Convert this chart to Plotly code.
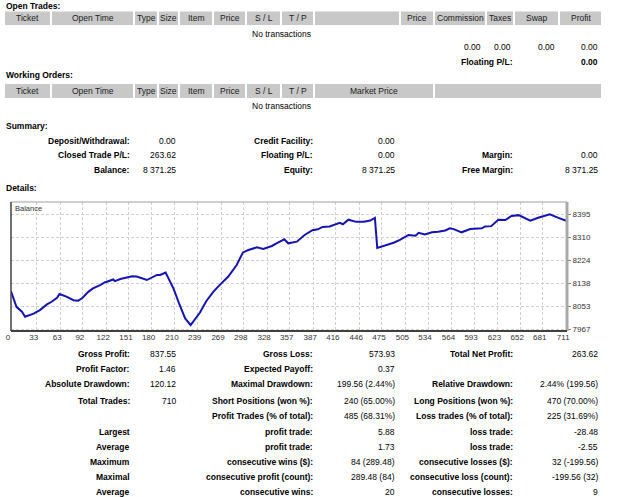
import plotly.graph_objects as go

W, H = 625, 497

# ---------------- data ----------------
trade_index = [0, 7, 14, 18, 29, 37, 46, 52, 59, 62, 71, 80, 86, 91, 99, 105, 114, 120, 131, 133,
               140, 155, 161, 174, 187, 191, 198, 208, 216, 223, 230, 242, 250, 259, 268, 278, 289,
               297, 304, 315, 323, 334, 340, 350, 355, 366, 376, 386, 393, 399, 408, 416, 421, 425,
               432, 442, 452, 460, 466, 469, 481, 490, 498, 509, 518, 522, 530, 539, 547, 556, 562,
               567, 577, 588, 603, 607, 615, 624, 633, 641, 650, 665, 675, 690, 701, 711]
balance = [8108, 8050, 8032, 8013, 8025, 8038, 8059, 8069, 8084, 8098, 8088, 8075, 8073, 8082, 8106,
           8119, 8131, 8141, 8152, 8146, 8154, 8164, 8163, 8150, 8169, 8169, 8178, 8119, 8057, 8007,
           7982, 8029, 8071, 8106, 8134, 8162, 8206, 8253, 8262, 8272, 8266, 8277, 8287, 8302, 8287,
           8293, 8318, 8336, 8339, 8348, 8350, 8358, 8363, 8358, 8375, 8367, 8367, 8372, 8382, 8270,
           8280, 8289, 8300, 8318, 8315, 8326, 8320, 8328, 8330, 8335, 8343, 8340, 8328, 8340, 8343,
           8350, 8351, 8375, 8374, 8389, 8392, 8371, 8382, 8395, 8382, 8371.25]
x_tick_labels = [0, 33, 63, 92, 122, 151, 180, 210, 239, 269, 298, 328, 357, 387, 416, 446, 475,
                 505, 534, 564, 593, 623, 652, 681, 711]
y_tick_values = [7967, 8053, 8138, 8224, 8310, 8395]

open_trades_headers = ["Ticket", "Open Time", "Type", "Size", "Item", "Price", "S / L", "T / P", "",
                       "Price", "Commission", "Taxes", "Swap", "Profit"]
working_orders_headers = ["Ticket", "Open Time", "Type", "Size", "Item", "Price", "S / L", "T / P",
                          "Market Price", ""]
open_trades_totals = ["0.00", "0.00", "0.00", "0.00"]
floating_pl = ("Floating P/L:", "0.00")

summary_rows = [
    [("Deposit/Withdrawal:", "0.00"), ("Credit Facility:", "0.00"), ("", "")],
    [("Closed Trade P/L:", "263.62"), ("Floating P/L:", "0.00"), ("Margin:", "0.00")],
    [("Balance:", "8 371.25"), ("Equity:", "8 371.25"), ("Free Margin:", "8 371.25")],
]
stats_rows = [
    [("Gross Profit:", "837.55"), ("Gross Loss:", "573.93"), ("Total Net Profit:", "263.62")],
    [("Profit Factor:", "1.46"), ("Expected Payoff:", "0.37"), ("", "")],
    [("Absolute Drawdown:", "120.12"), ("Maximal Drawdown:", "199.56 (2.44%)"),
     ("Relative Drawdown:", "2.44% (199.56)")],
    [("Total Trades:", "710"), ("Short Positions (won %):", "240 (65.00%)"),
     ("Long Positions (won %):", "470 (70.00%)")],
    [("", ""), ("Profit Trades (% of total):", "485 (68.31%)"),
     ("Loss trades (% of total):", "225 (31.69%)")],
    [("Largest", ""), ("profit trade:", "5.88"), ("loss trade:", "-28.48")],
    [("Average", ""), ("profit trade:", "1.73"), ("loss trade:", "-2.55")],
    [("Maximum", ""), ("consecutive wins ($):", "84 (289.48)"),
     ("consecutive losses ($):", "32 (-199.56)")],
    [("Maximal", ""), ("consecutive profit (count):", "289.48 (84)"),
     ("consecutive loss (count):", "-199.56 (32)")],
    [("Average", ""), ("consecutive wins:", "20"), ("consecutive losses:", "9")],
]

# ---------------- layout helpers (pixels -> paper) ----------------
def PX(x):
    return x / W

def PY(y):
    return 1 - y / H

FONT = "Liberation Sans, Arial, sans-serif"
FS = 8.5
annotations = []
shapes = []

def text(x, y, s, anchor="right", bold=False, size=FS, color="#000000"):
    if s == "":
        return
    annotations.append(dict(
        x=PX(x), y=PY(y), xref="paper", yref="paper", text=("<b>%s</b>" % s) if bold else s,
        showarrow=False, xanchor=anchor, yanchor="middle", borderpad=0,
        font=dict(family=FONT, size=size, color=color)))

def rect(x0, y0, x1, y1, color):
    shapes.append(dict(type="rect", xref="paper", yref="paper", x0=PX(x0), x1=PX(x1),
                       y0=PY(y1), y1=PY(y0), fillcolor=color, line=dict(width=0), layer="below"))

def line(x0, y0, x1, y1, color, width):
    shapes.append(dict(type="line", xref="paper", yref="paper", x0=PX(x0), x1=PX(x1),
                       y0=PY(y0), y1=PY(y1), line=dict(color=color, width=width), layer="above"))

HEADER_BG = "#c8c8c8"
open_cells = [(5, 50), (52, 133), (135, 157), (159, 178), (180, 212), (214, 245), (247, 280),
              (282, 313), (315, 399), (401, 433), (435, 485), (487, 513), (515, 558), (560, 601)]
work_cells = open_cells[:8] + [(315, 433), (435, 601)]

# Open trades
text(5, 6, "Open Trades:", anchor="left", bold=True)
for (a, b), lab in zip(open_cells, open_trades_headers):
    rect(a, 11.5, b, 25, HEADER_BG)
    text((a + b) / 2, 18.5, lab, anchor="center", color="#202020")
text(281, 34, "No transactions", anchor="center")
for xr, v in zip([482, 512, 556, 599], open_trades_totals):
    text(xr, 47, v)
text(514, 62, floating_pl[0], bold=True)
text(599, 62, floating_pl[1], bold=True)

# Working orders
text(5, 75, "Working Orders:", anchor="left", bold=True)
for (a, b), lab in zip(work_cells, working_orders_headers):
    rect(a, 84, b, 98, HEADER_BG)
    text((a + b) / 2, 91, lab, anchor="center", color="#202020")
text(281, 106, "No transactions", anchor="center")

# Summary
label_right = [131, 314, 514]
value_right = [177, 396, 599]
text(5, 126, "Summary:", anchor="left", bold=True)
for y, row in zip([141, 155, 170], summary_rows):
    for c, (lab, val) in enumerate(row):
        text(label_right[c], y, lab, bold=True)
        text(value_right[c], y, val)

text(5, 188, "Details:", anchor="left", bold=True)

# Stats
stat_y = [354, 369, 384, 401, 416, 432, 447, 462, 477, 492]
for y, row in zip(stat_y, stats_rows):
    for c, (lab, val) in enumerate(row):
        text(label_right[c], y, lab, bold=True)
        text(value_right[c], y, val)

# Chart frame
CL, CR, CT, CB = 11, 567, 202, 331
line(CL, CT, CR, CT, "#a0a0a0", 1)
line(CR, CT, CR, CB, "#a8a8a8", 3)
line(CL, CT, CL, CB, "#404040", 1.5)
line(CL, CB, CR, CB, "#404040", 2)
text(14, 208, "Balance", anchor="left", size=7.5, color="#333333")

fig = go.Figure()
fig.add_trace(go.Scatter(x=trade_index, y=balance, mode="lines",
                         line=dict(color="#1414b4", width=2), hoverinfo="skip"))

fig.update_layout(
    width=W, height=H, margin=dict(l=0, r=0, t=0, b=0),
    paper_bgcolor="white", plot_bgcolor="white", showlegend=False,
    annotations=annotations, shapes=shapes,
    xaxis=dict(domain=[PX(CL), PX(CR)], range=[0, 712], tickvals=x_tick_labels,
               ticktext=[str(v) for v in x_tick_labels], showgrid=True, gridcolor="#d0d0d0",
               griddash="3px,2px", gridwidth=1, zeroline=False, showline=False, ticks="",
               tickfont=dict(family=FONT, size=8, color="#333333"), ticklabelshift=-3,
               automargin=False, fixedrange=True),
    yaxis=dict(domain=[PY(CB), PY(CT)], range=[7960, 8441], tickvals=y_tick_values,
               side="right", showgrid=True, gridcolor="#d0d0d0", griddash="3px,2px", gridwidth=1,
               zeroline=False, showline=False, ticks="outside", ticklen=3, tickcolor="#808080",
               tickfont=dict(family=FONT, size=8, color="#333333"), automargin=False,
               fixedrange=True),
)

fig.write_html("out.html")
